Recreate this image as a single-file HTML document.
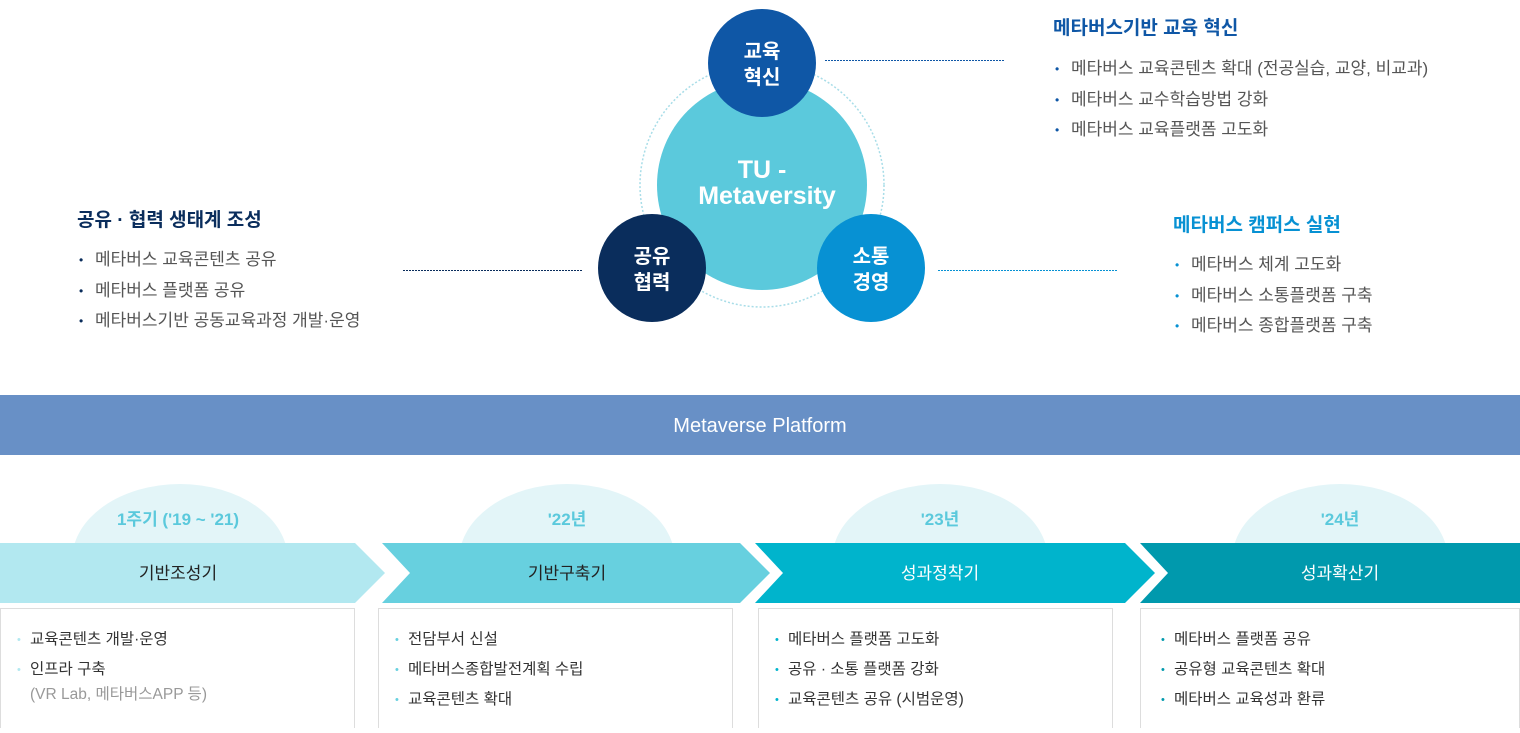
<!DOCTYPE html>
<html><head><meta charset="utf-8"><style>
body{margin:0;background:#fff;width:1520px;height:728px;overflow:hidden;font-family:"Liberation Sans","Noto Sans CJK KR",sans-serif}
</style></head><body>
<svg width="1520" height="728" xmlns="http://www.w3.org/2000/svg" font-family="Liberation Sans, Noto Sans CJK KR, sans-serif">
<defs><clipPath id="c"><rect x="0" y="0" width="1520" height="543"/></clipPath></defs>
<circle cx="762" cy="185" r="122" fill="none" stroke="#a8dde8" stroke-width="1.5" stroke-dasharray="2 2"/>
<circle cx="762" cy="185" r="105" fill="#5bc9dc"/>
<text x="762" y="178" text-anchor="middle" fill="#fff" font-size="25" font-weight="bold">TU -</text>
<text x="767" y="204" text-anchor="middle" fill="#fff" font-size="25" font-weight="bold">Metaversity</text>
<circle cx="762" cy="63" r="54" fill="#0f57a6"/>
<text x="762" y="58" text-anchor="middle" fill="#fff" font-size="20" font-weight="bold">교육</text>
<text x="762" y="84" text-anchor="middle" fill="#fff" font-size="20" font-weight="bold">혁신</text>
<circle cx="652" cy="268" r="54" fill="#0a2d5c"/>
<text x="652" y="263" text-anchor="middle" fill="#fff" font-size="20" font-weight="bold">공유</text>
<text x="652" y="289" text-anchor="middle" fill="#fff" font-size="20" font-weight="bold">협력</text>
<circle cx="871" cy="268" r="54" fill="#0791d3"/>
<text x="871" y="263" text-anchor="middle" fill="#fff" font-size="20" font-weight="bold">소통</text>
<text x="871" y="289" text-anchor="middle" fill="#fff" font-size="20" font-weight="bold">경영</text>
<line x1="825" y1="60.5" x2="1005" y2="60.5" stroke="#0f57a6" stroke-dasharray="2 1"/>
<line x1="403" y1="270.5" x2="583" y2="270.5" stroke="#0a2d5c" stroke-dasharray="2 1"/>
<line x1="938" y1="270.5" x2="1118" y2="270.5" stroke="#0791d3" stroke-dasharray="2 1"/>
<g font-size="17" fill="#555">
<text x="1053" y="34" fill="#0f57a6" font-size="19" font-weight="bold">메타버스기반 교육 혁신</text>
<text x="1055" y="73" font-size="12" fill="#0f57a6">•</text><text x="1071" y="74">메타버스 교육콘텐츠 확대 (전공실습, 교양, 비교과)</text>
<text x="1055" y="104" font-size="12" fill="#0f57a6">•</text><text x="1071" y="105">메타버스 교수학습방법 강화</text>
<text x="1055" y="134" font-size="12" fill="#0f57a6">•</text><text x="1071" y="135">메타버스 교육플랫폼 고도화</text>
<text x="77" y="226" fill="#0a2d5c" font-size="19" font-weight="bold">공유 · 협력 생태계 조성</text>
<text x="79" y="264" font-size="12" fill="#0a2d5c">•</text><text x="95" y="265">메타버스 교육콘텐츠 공유</text>
<text x="79" y="295" font-size="12" fill="#0a2d5c">•</text><text x="95" y="296">메타버스 플랫폼 공유</text>
<text x="79" y="325" font-size="12" fill="#0a2d5c">•</text><text x="95" y="326">메타버스기반 공동교육과정 개발·운영</text>
<text x="1173" y="231" fill="#0791d3" font-size="19" font-weight="bold">메타버스 캠퍼스 실현</text>
<text x="1175" y="269" font-size="12" fill="#0791d3">•</text><text x="1191" y="270">메타버스 체계 고도화</text>
<text x="1175" y="300" font-size="12" fill="#0791d3">•</text><text x="1191" y="301">메타버스 소통플랫폼 구축</text>
<text x="1175" y="330" font-size="12" fill="#0791d3">•</text><text x="1191" y="331">메타버스 종합플랫폼 구축</text>
</g>
<rect x="0" y="395" width="1520" height="60" fill="#6890c6"/>
<text x="760" y="432" text-anchor="middle" fill="#fff" font-size="20">Metaverse Platform</text>
<g fill="#e3f5f8" clip-path="url(#c)">
<ellipse cx="180" cy="560" rx="108" ry="76"/>
<ellipse cx="567" cy="560" rx="108" ry="76"/>
<ellipse cx="940" cy="560" rx="108" ry="76"/>
<ellipse cx="1340" cy="560" rx="108" ry="76"/>
</g>
<g font-size="17" font-weight="bold" fill="#5bc9dc" text-anchor="middle">
<text x="178" y="525">1주기 ('19 ~ '21)</text>
<text x="567" y="525">'22년</text>
<text x="940" y="525">'23년</text>
<text x="1340" y="525">'24년</text>
</g>
<polygon points="0,543 355,543 385,573 355,603 0,603" fill="#b2e8f0"/>
<polygon points="382,543 740,543 770,573 740,603 382,603 410,573" fill="#67d0df"/>
<polygon points="755,543 1125,543 1155,573 1125,603 755,603 783,573" fill="#00b4cc"/>
<polygon points="1140,543 1520,543 1520,603 1140,603 1168,573" fill="#0099ad"/>
<g font-size="17" text-anchor="middle">
<text x="178" y="579" fill="#222">기반조성기</text>
<text x="567" y="579" fill="#222">기반구축기</text>
<text x="940" y="579" fill="#fff">성과정착기</text>
<text x="1340" y="579" fill="#fff">성과확산기</text>
</g>
<g fill="#fff" stroke="#ddd">
<rect x="0.5" y="608.5" width="354" height="120"/>
<rect x="378.5" y="608.5" width="354" height="120"/>
<rect x="758.5" y="608.5" width="354" height="120"/>
<rect x="1140.5" y="608.5" width="379" height="120"/>
</g>
<g font-size="15.5" fill="#333">
<text x="17" y="643" font-size="11" fill="#b2e8f0">•</text><text x="30" y="644">교육콘텐츠 개발·운영</text>
<text x="17" y="673" font-size="11" fill="#b2e8f0">•</text><text x="30" y="674">인프라 구축</text>
<text x="30" y="699" fill="#999">(VR Lab, 메타버스APP 등)</text>
<text x="395" y="643" font-size="11" fill="#67d0df">•</text><text x="408" y="644">전담부서 신설</text>
<text x="395" y="673" font-size="11" fill="#67d0df">•</text><text x="408" y="674">메타버스종합발전계획 수립</text>
<text x="395" y="703" font-size="11" fill="#67d0df">•</text><text x="408" y="704">교육콘텐츠 확대</text>
<text x="775" y="643" font-size="11" fill="#00b4cc">•</text><text x="788" y="644">메타버스 플랫폼 고도화</text>
<text x="775" y="673" font-size="11" fill="#00b4cc">•</text><text x="788" y="674">공유 · 소통 플랫폼 강화</text>
<text x="775" y="703" font-size="11" fill="#00b4cc">•</text><text x="788" y="704">교육콘텐츠 공유 (시범운영)</text>
<text x="1161" y="643" font-size="11" fill="#0099ad">•</text><text x="1174" y="644">메타버스 플랫폼 공유</text>
<text x="1161" y="673" font-size="11" fill="#0099ad">•</text><text x="1174" y="674">공유형 교육콘텐츠 확대</text>
<text x="1161" y="703" font-size="11" fill="#0099ad">•</text><text x="1174" y="704">메타버스 교육성과 환류</text>
</g>
</svg>
</body></html>
